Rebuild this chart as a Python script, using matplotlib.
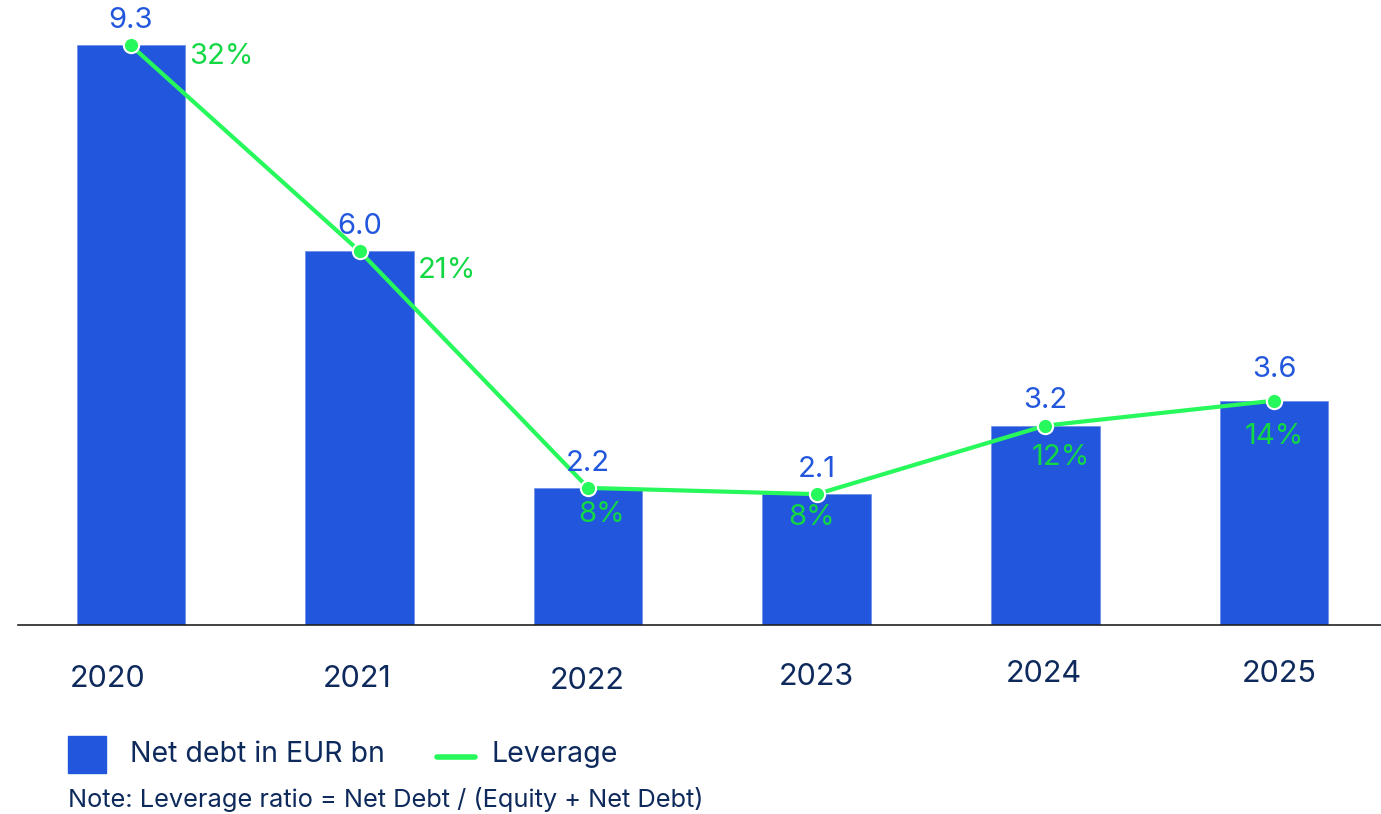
import matplotlib
matplotlib.use("Agg")
import matplotlib.pyplot as plt
from matplotlib.patches import Rectangle
from matplotlib.lines import Line2D

plt.rcParams["font.family"] = ["Inter", "DejaVu Sans"]

# data
years = ["2020", "2021", "2022", "2023", "2024", "2025"]
net_debt = [9.3, 6.0, 2.2, 2.1, 3.2, 3.6]
leverage = [32, 21, 8, 8, 12, 14]

# label offsets (points) - the original labels are not perfectly aligned
lev_offsets = [(42, -8), (42, -14), (10, -19), (-4, -17), (11, -23), (0, -26)]
lev_ha = ["left", "left", "center", "center", "center", "center"]
year_offsets = [(-17, 0), (-2, 0), (-1, -1.5), (0, 1.5), (-1, 4), (4, 4)]
value_offsets = [8, 8, 8, 8, 8, 13]

BLUE = "#2257DD"
GREEN_LINE = "#27F85B"
GREEN_TXT = "#12D844"
NAVY = "#0E2A5C"

W, H = 1381, 814
fig = plt.figure(figsize=(W / 100, H / 100), dpi=100, facecolor="white")
ax = fig.add_axes([18 / W, 189 / H, (W - 18) / W, 625 / H])

x = list(range(len(years)))
ax.bar(x, net_debt, width=0.475, color=BLUE, edgecolor="#6f92ea", linewidth=0.6, zorder=2)
ax.plot(x, net_debt, color=GREEN_LINE, linewidth=3, marker="o", markersize=11,
        markerfacecolor=GREEN_LINE, markeredgecolor="white", markeredgewidth=1.5, zorder=3)

for i, v in enumerate(net_debt):
    ax.annotate(f"{v:.1f}", (i, v), xytext=(0, value_offsets[i]), textcoords="offset points",
                ha="center", va="bottom", color=BLUE, fontsize=21)

for i, (v, lv) in enumerate(zip(net_debt, leverage)):
    ax.annotate(f"{lv}%", (i, v), xytext=lev_offsets[i], textcoords="offset points",
                ha=lev_ha[i], va="center", color=GREEN_TXT, fontsize=21, zorder=4)

# year labels as text so each can be nudged like in the original
for i, yr in enumerate(years):
    dx, dy = year_offsets[i]
    ax.annotate(yr, (i, 0), xycoords=("data", "axes fraction"),
                xytext=(dx, -39 + dy), textcoords="offset points",
                ha="center", va="center", fontsize=22, color=NAVY, annotation_clip=False)

ax.set_xlim(-0.494, 5.468)
ax.set_ylim(0, 10.03)
ax.set_yticks([])
ax.set_xticks([])
for s in ["top", "right", "left"]:
    ax.spines[s].set_visible(False)
ax.spines["bottom"].set_color("#222222")
ax.spines["bottom"].set_linewidth(1.2)
ax.set_facecolor("none")

# legend drawn by hand (pixel positions)
def fx(px):
    return px / W

def fy(py):
    return (H - py) / H

fig.add_artist(Rectangle((fx(68), fy(773)), 38 / W, 37 / H, color=BLUE, transform=fig.transFigure))
fig.text(fx(130), fy(755), "Net debt in EUR bn", ha="left", va="center", fontsize=20.5, color=NAVY)
fig.add_artist(Line2D([fx(437), fx(475)], [fy(757), fy(757)], color=GREEN_LINE, linewidth=4,
                      solid_capstyle="round", transform=fig.transFigure))
fig.text(fx(492), fy(755), "Leverage", ha="left", va="center", fontsize=20.5, color=NAVY)
fig.text(fx(68), fy(800), "Note: Leverage ratio = Net Debt / (Equity + Net Debt)",
         ha="left", va="center", fontsize=18.3, color=NAVY)

fig.savefig("out.png", dpi=100, facecolor="white")
